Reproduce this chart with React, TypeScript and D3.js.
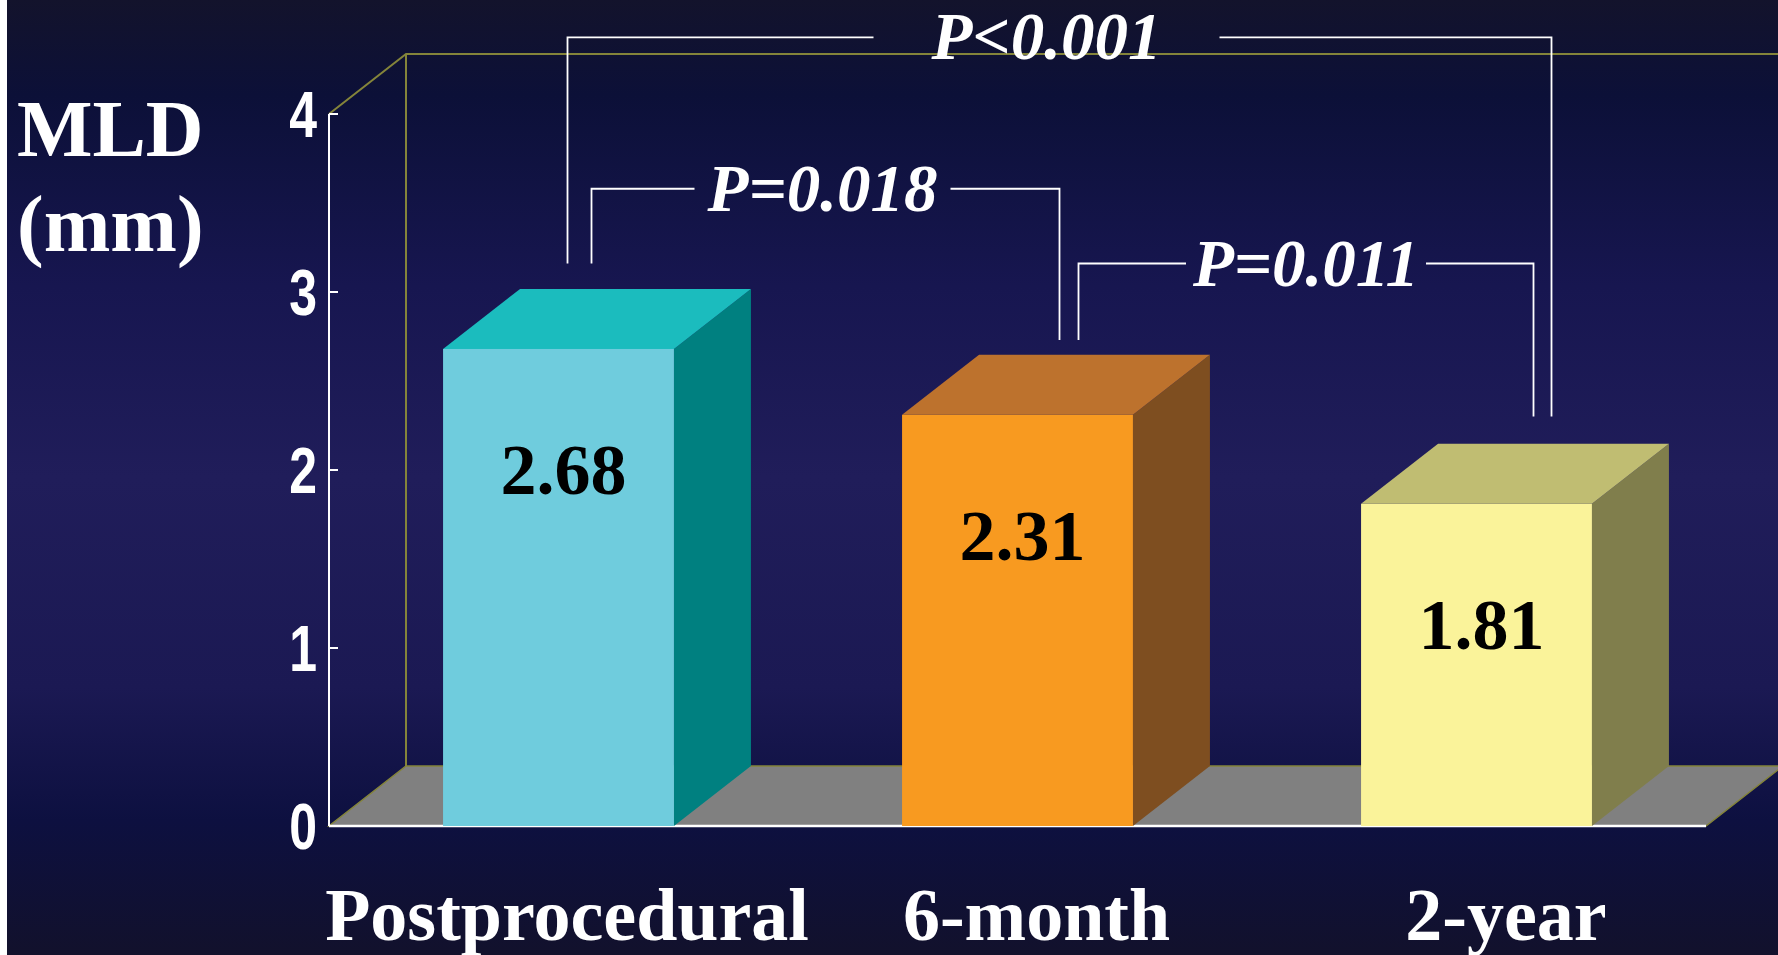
import React from "react";
import * as d3 from "d3";

// Mean minimal lumen diameter at each follow-up point
const categories = ["Postprocedural", "6-month", "2-year"];
const mldValues = [2.68, 2.31, 1.81];
const valueLabels = ["2.68", "2.31", "1.81"];
const yTicks = [0, 1, 2, 3, 4];

// Pairwise comparisons drawn as brackets over the bars
const pLabels = ["P<0.001", "P=0.018", "P=0.011"];
const pFrom = [0, 0, 1];
const pTo = [2, 1, 2];
const pLevel = [4.43, 3.58, 3.16];
const pLeftEnd = [3.16, 3.16, 2.73];
const pRightEnd = [2.3, 2.73, 2.3];

const W = 1778;
const H = 955;

const barColors = [
  { front: "#6FCCDD", top: "#1BBCBE", side: "#008080" },
  { front: "#F89A20", top: "#BD722D", side: "#7E4E20" },
  { front: "#FAF39A", top: "#C0BD72", side: "#807E4C" },
];

const SERIF = "'Liberation Serif', 'Times New Roman', Times, serif";
const SANS = "'Liberation Sans', Arial, sans-serif";

export default function App() {
  const x = d3.scaleBand<string>().domain(categories).range([329, 1706]).padding(0);
  const y = d3.scaleLinear().domain([0, 4]).range([826, 114]);
  const labelX = d3.scalePoint<string>().domain(categories).range([567, 1506]);

  const dx = 77;
  const dy = -60;
  const barW = x.bandwidth() * 0.503;
  const center = (i: number) => (x(categories[i]) as number) + x.bandwidth() / 2;

  const x0 = x.range()[0];
  const x1 = x.range()[1];
  const yTop = y(4);
  const yBase = y(0);

  const line = d3.line<[number, number]>();

  // bracket geometry: end offsets from bar centres and text gap half widths
  const leftOff = [9, 33, 61];
  const rightOff = [75, 42, 57];
  const gapHalf = [173, 128, 120];
  const gapShift = [-13, -3, 0];

  return (
    <svg
      width={W}
      height={H}
      style={{ position: "absolute", left: 0, top: 0, display: "block" }}
    >
      <defs>
        <linearGradient id="bg" x1="0" y1="0" x2="0" y2="1">
          <stop offset="0" stopColor="#13132C" />
          <stop offset="0.1" stopColor="#0C1038" />
          <stop offset="0.3" stopColor="#171650" />
          <stop offset="0.5" stopColor="#201D5A" />
          <stop offset="0.72" stopColor="#1B1953" />
          <stop offset="0.86" stopColor="#0D1040" />
          <stop offset="1" stopColor="#12112C" />
        </linearGradient>
      </defs>
      <rect x={0} y={0} width={W} height={H} fill="#ffffff" />
      <rect x={7} y={0} width={W - 7} height={H} fill="url(#bg)" />

      {/* back wall outline */}
      <path
        d={line([
          [x0, yTop],
          [x0 + dx, yTop + dy],
          [W + 10, yTop + dy],
        ]) as string}
        fill="none"
        stroke="#84843A"
        strokeWidth={2}
      />
      <line x1={x0 + dx} y1={yTop + dy} x2={x0 + dx} y2={yBase + dy} stroke="#84843A" strokeWidth={2} />

      {/* floor */}
      <path
        d={(line([
          [x0, yBase],
          [x1, yBase],
          [x1 + dx, yBase + dy],
          [x0 + dx, yBase + dy],
        ]) as string) + "Z"}
        fill="#808080"
        stroke="#84843A"
        strokeWidth={1.5}
      />
      <line x1={x0} y1={yBase} x2={x1} y2={yBase} stroke="#ffffff" strokeWidth={2.5} />

      {/* y axis */}
      <line x1={x0} y1={yTop} x2={x0} y2={yBase} stroke="#ffffff" strokeWidth={2} />
      {yTicks.map((t) => (
        <g key={t}>
          <line x1={x0} y1={y(t)} x2={x0 + 9} y2={y(t)} stroke="#ffffff" strokeWidth={2} />
          <text
            transform={`translate(${x0 - 12},${y(t) + 23}) scale(0.78,1)`}
            textAnchor="end"
            fontFamily={SANS}
            fontWeight="bold"
            fontSize={64}
            fill="#ffffff"
          >
            {t}
          </text>
        </g>
      ))}

      {/* 3D bars */}
      {categories.map((c, i) => {
        const v = mldValues[i];
        const left = center(i) - barW / 2;
        const right = left + barW;
        const top = y(v);
        const col = barColors[i];
        return (
          <g key={c}>
            <path
              d={(line([
                [right, top],
                [right + dx, top + dy],
                [right + dx, yBase + dy],
                [right, yBase],
              ]) as string) + "Z"}
              fill={col.side}
            />
            <path
              d={(line([
                [left, top],
                [left + dx, top + dy],
                [right + dx, top + dy],
                [right, top],
              ]) as string) + "Z"}
              fill={col.top}
            />
            <rect x={left} y={top} width={barW} height={yBase - top} fill={col.front} />
            <text
              x={center(i) + 5}
              y={top + 145}
              textAnchor="middle"
              fontFamily={SERIF}
              fontWeight="bold"
              fontSize={72}
              fill="#000000"
            >
              {valueLabels[i]}
            </text>
          </g>
        );
      })}

      {/* significance brackets */}
      {pLabels.map((p, k) => {
        const lx = center(pFrom[k]) + leftOff[k];
        const rx = center(pTo[k]) + rightOff[k];
        const ly = y(pLevel[k]);
        const gc = (lx + rx) / 2 + gapShift[k];
        return (
          <g key={p}>
            <path
              d={line([
                [lx, y(pLeftEnd[k])],
                [lx, ly],
                [gc - gapHalf[k], ly],
              ]) as string}
              fill="none"
              stroke="#ffffff"
              strokeWidth={1.8}
            />
            <path
              d={line([
                [gc + gapHalf[k], ly],
                [rx, ly],
                [rx, y(pRightEnd[k])],
              ]) as string}
              fill="none"
              stroke="#ffffff"
              strokeWidth={1.8}
            />
            <text
              x={gc}
              y={ly + 22}
              textAnchor="middle"
              fontFamily={SERIF}
              fontWeight="bold"
              fontStyle="italic"
              fontSize={67}
              fill="#ffffff"
            >
              {p}
            </text>
          </g>
        );
      })}

      {/* category labels */}
      {categories.map((c) => (
        <text
          key={c}
          x={labelX(c)}
          y={940}
          textAnchor="middle"
          fontFamily={SERIF}
          fontWeight="bold"
          fontSize={74}
          fill="#ffffff"
        >
          {c}
        </text>
      ))}

      {/* axis title */}
      <text x={17} y={156} fontFamily={SERIF} fontWeight="bold" fontSize={80} fill="#ffffff">
        MLD
      </text>
      <text x={17} y={251} fontFamily={SERIF} fontWeight="bold" fontSize={80} fill="#ffffff">
        (mm)
      </text>
    </svg>
  );
}
